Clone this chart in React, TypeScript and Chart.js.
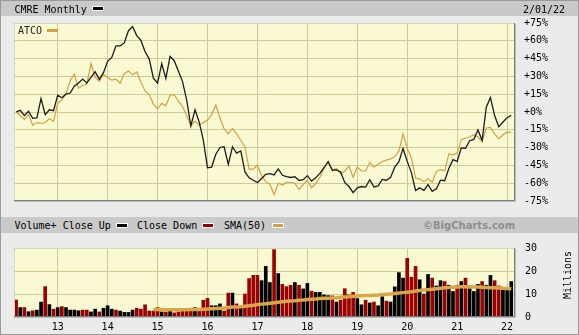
import React, { useEffect, useRef } from 'react';
import { Chart, registerables } from 'chart.js';

Chart.register(...registerables);

const MONO = "'DejaVu Sans Mono', monospace";

// ---------- DATA ----------
const BASE_YEAR = 2012;
const FIRST_YEAR = 2012;
const FIRST_MONTH = 3; // March 2012
const N = 120;
const months: string[] = Array.from({ length: N }, (_, i) => {
  const m = FIRST_MONTH - 1 + i;
  return `${FIRST_YEAR + Math.floor(m / 12)}-${String((m % 12) + 1).padStart(2, '0')}`;
});

const yearTicks = ['13', '14', '15', '16', '17', '18', '19', '20', '21', '22'];
const pctTicks = [75, 60, 45, 30, 15, 0, -15, -30, -45, -60, -75];
const volTicks = [0, 10, 20, 30];

// CMRE monthly, % change
const cmrePct = [
  0, 1.4, -3.0, 0.6, -5.4, -4.9, 11.4, -2.2, 1.9, 1.1,
  14.1, 12.0, 15.0, 16.0, 21.8, 24.5, 27.7, 24.5, 29.1, 34.0,
  27.5, 33.2, 42.7, 46.0, 55.7, 55.7, 58.2, 68.5, 72.0, 64.4,
  60.3, 50.8, 44.6, 28.5, 24.4, 40.7, 28.3, 46.8, 43.2, 34.5,
  25.6, 10.1, -11.7, 1.9, -8.4, -23.9, -47.0, -46.4, -35.6, -29.9,
  -29.3, -44.2, -29.3, -34.7, -32.8, -50.5, -55.5, -57.5, -59.5, -56.0,
  -52.5, -52.0, -53.0, -47.9, -53.3, -54.4, -55.2, -54.5, -57.7, -57.0,
  -53.6, -58.2, -55.5, -51.7, -46.8, -41.9, -49.2, -48.8, -50.6, -59.6,
  -62.8, -68.0, -63.9, -62.8, -63.3, -57.1, -63.1, -62.2, -56.8, -57.5,
  -55.1, -46.5, -41.9, -30.7, -41.6, -51.1, -66.1, -63.9, -66.1, -61.2,
  -66.9, -64.7, -57.4, -57.9, -47.6, -40.2, -41.6, -30.2, -30.5, -24.2,
  -23.1, -15.2, -23.9, 4.1, 12.2, -3.0, -12.5, -8.4, -4.9, -2.7,
];

// ATCO monthly, % change
const atcoPct = [
  0, -3.0, -6.2, -2.2, -11.1, -8.9, -9.5, -8.9, -5.7, -7.9,
  7.3, 10.1, 15.5, 26.3, 31.8, 20.1, 22.3, 23.6, 40.8, 29.1,
  25.8, 31.8, 29.1, 26.9, 27.7, 24.2, 32.3, 34.5, 31.3, 33.7,
  25.0, 17.7, 14.7, 6.7, 2.7, 7.3, 5.2, 14.1, 14.7, 9.3,
  4.6, -3.0, -11.6, -7.6, -11.1, -8.9, -6.8, -2.2, 5.9, -4.9,
  -14.3, -18.4, -13.8, -18.4, -23.8, -29.2, -48.2, -48.2, -44.7, -53.6,
  -58.7, -61.0, -69.6, -60.0, -61.5, -59.2, -59.2, -60.0, -65.4, -61.1,
  -57.3, -63.8, -60.5, -55.1, -47.5, -41.5, -49.1, -47.5, -51.9, -49.7,
  -45.6, -55.1, -46.4, -49.7, -49.7, -42.5, -46.3, -44.0, -41.8, -40.5,
  -39.6, -37.5, -33.0, -18.4, -30.7, -38.8, -55.7, -56.5, -58.7, -56.5,
  -59.2, -50.2, -48.6, -49.7, -35.3, -36.1, -34.7, -23.3, -21.9, -21.1,
  -19.2, -21.1, -24.7, -13.5, -13.0, -18.4, -22.5, -19.2, -17.0, -17.0,
];

// Volume, millions
const volume = [
  7.4, 4.1, 4.1, 2.3, 2.7, 3.0, 6.5, 13.2, 5.4, 3.4,
  4.1, 4.5, 4.1, 3.0, 3.0, 2.7, 3.0, 3.0, 2.2, 3.4,
  2.2, 3.8, 4.9, 3.4, 3.0, 2.6, 2.0, 2.0, 3.0, 3.8,
  3.4, 5.3, 2.6, 2.6, 4.1, 2.2, 2.2, 3.0, 1.8, 2.2,
  3.0, 3.0, 3.0, 4.1, 3.0, 7.3, 8.1, 4.9, 4.9, 5.7,
  2.6, 10.4, 10.4, 5.7, 4.5, 10.0, 16.7, 18.1, 18.1, 15.8,
  22.0, 15.0, 29.3, 18.9, 14.2, 13.2, 13.8, 15.0, 13.8, 12.2,
  14.6, 11.2, 10.7, 10.7, 9.6, 9.3, 9.2, 6.5, 7.3, 12.3,
  9.6, 10.7, 8.0, 5.3, 7.3, 6.1, 6.5, 4.9, 8.8, 6.9,
  6.5, 13.1, 19.3, 16.9, 25.5, 17.3, 22.0, 16.2, 10.0, 18.5,
  16.9, 13.5, 15.8, 15.4, 13.8, 11.1, 13.8, 15.4, 16.9, 12.3,
  11.1, 14.2, 15.4, 13.8, 18.1, 15.8, 13.5, 12.0, 12.0, 15.4,
];

// 1 = close up, 0 = close down
const closeUp = [
  0, 1, 0, 1, 0, 1, 1, 0, 1, 0,
  1, 0, 1, 1, 1, 1, 0, 0, 1, 1,
  0, 1, 1, 1, 0, 1, 1, 1, 1, 0,
  0, 0, 0, 0, 0, 1, 0, 1, 0, 0,
  0, 0, 0, 1, 0, 0, 0, 1, 1, 1,
  0, 0, 1, 0, 1, 0, 0, 0, 0, 1,
  1, 1, 0, 1, 0, 0, 0, 1, 0, 1,
  1, 0, 1, 1, 1, 1, 0, 1, 0, 0,
  0, 0, 1, 1, 0, 1, 0, 1, 1, 0,
  1, 1, 1, 1, 0, 0, 0, 1, 0, 1,
  0, 1, 1, 0, 1, 1, 0, 1, 0, 1,
  1, 1, 0, 1, 1, 0, 0, 1, 1, 1,
];

// 50-period SMA of volume (millions)
const sma50: (number | null)[] = [
  null, null, null, null, null, null, null, null, null, null,
  null, null, null, null, null, null, null, null, null, null,
  null, null, null, null, null, null, null, null, null, null,
  null, null, null, 3.3, 3.3, 3.3, 3.2, 3.2, 3.2, 3.2,
  3.2, 3.2, 3.3, 3.3, 3.3, 3.4, 3.5, 3.6, 3.7, 3.8,
  3.9, 4.1, 4.3, 4.4, 4.5, 4.7, 4.9, 5.1, 5.4, 5.6,
  5.8, 6.0, 6.2, 6.4, 6.6, 6.8, 7.0, 7.1, 7.3, 7.4,
  7.6, 7.7, 7.8, 8.0, 8.1, 8.2, 8.3, 8.4, 8.6, 8.7,
  8.8, 9.0, 9.1, 9.2, 9.3, 9.4, 9.5, 9.6, 9.8, 9.9,
  10.0, 10.2, 10.4, 10.6, 10.8, 11.0, 11.3, 11.5, 11.7, 11.9,
  12.1, 12.3, 12.5, 12.7, 12.8, 12.9, 13.0, 13.1, 13.1, 13.1,
  13.0, 13.0, 12.9, 12.8, 12.7, 12.7, 12.6, 12.5, 12.4, 12.3,
];

// ---------- helpers ----------
const monthPos = (label: string) => {
  const [y, m] = label.split('-').map(Number);
  return (y - BASE_YEAR) * 12 + (m - 1);
};
const yearPos = (t: string) => (2000 + Number(t) - BASE_YEAR) * 12;
const X_MIN = 1.5;
const X_MAX = 121.9;

const GRID = '#cccc99';
const BLACK_LINE = '#1c1c1c';
const ORANGE = '#d6a040';
const RED = '#9c0000';

let patternCache: CanvasPattern | null = null;
function getPattern(ctx: CanvasRenderingContext2D) {
  if (patternCache) return patternCache;
  const pc = document.createElement('canvas');
  pc.width = 2;
  pc.height = 2;
  const g = pc.getContext('2d')!;
  g.fillStyle = '#ffffe2';
  g.fillRect(0, 0, 2, 2);
  g.fillStyle = '#f7f4c6';
  g.fillRect(0, 0, 1, 1);
  g.fillRect(1, 1, 1, 1);
  patternCache = ctx.createPattern(pc, 'repeat');
  return patternCache!;
}

const panelPlugin = {
  id: 'panelFrame',
  beforeDraw(chart: any) {
    const { ctx, chartArea: a } = chart;
    ctx.save();
    ctx.fillStyle = getPattern(ctx);
    ctx.fillRect(a.left, a.top, a.right - a.left, a.bottom - a.top);
    ctx.restore();
  },
  afterDraw(chart: any) {
    const { ctx, chartArea: a } = chart;
    ctx.save();
    ctx.lineWidth = 1;
    ctx.strokeStyle = '#d8d8bc';
    ctx.beginPath();
    ctx.moveTo(a.left + 0.5, a.bottom);
    ctx.lineTo(a.left + 0.5, a.top + 0.5);
    ctx.lineTo(a.right, a.top + 0.5);
    ctx.stroke();
    ctx.strokeStyle = '#7c7c7c';
    ctx.beginPath();
    ctx.moveTo(a.left, a.bottom - 0.5);
    ctx.lineTo(a.right - 0.5, a.bottom - 0.5);
    ctx.lineTo(a.right - 0.5, a.top);
    ctx.stroke();
    ctx.strokeStyle = '#bcbcbc';
    ctx.beginPath();
    ctx.moveTo(a.left + 1, a.bottom + 0.5);
    ctx.lineTo(a.right + 0.5, a.bottom + 0.5);
    ctx.lineTo(a.right + 0.5, a.top + 1);
    ctx.stroke();
    ctx.restore();
  },
};

const xScale = (showLabels: boolean, height: number) => ({
  type: 'linear' as const,
  min: X_MIN,
  max: X_MAX,
  offset: false,
  bounds: 'data' as const,
  grid: { color: GRID, lineWidth: 1, drawTicks: false, offset: false },
  border: { display: false },
  afterBuildTicks: (s: any) => {
    s.ticks = yearTicks.map((t) => ({ value: yearPos(t) }));
  },
  afterFit: (s: any) => {
    s.height = height;
  },
  ticks: {
    display: showLabels,
    autoSkip: false,
    maxRotation: 0,
    padding: 4,
    color: '#000',
    font: { family: MONO, size: 10 },
    callback: (_v: any, i: number) => yearTicks[i],
  },
});

export default function App() {
  const upRef = useRef<HTMLCanvasElement>(null);
  const loRef = useRef<HTMLCanvasElement>(null);

  useEffect(() => {
    const xs = months.map(monthPos);
    const upper = new Chart(upRef.current!, {
      type: 'line',
      data: {
        datasets: [
          {
            label: 'CMRE',
            data: cmrePct.map((v, i) => ({ x: xs[i], y: v })),
            borderColor: BLACK_LINE,
            borderWidth: 1.3,
            pointRadius: 0,
            tension: 0,
          },
          {
            label: 'ATCO',
            data: atcoPct.map((v, i) => ({ x: xs[i], y: v })),
            borderColor: ORANGE,
            borderWidth: 1.2,
            pointRadius: 0,
            tension: 0,
          },
        ],
      },
      options: {
        animation: false,
        responsive: false,
        devicePixelRatio: 1,
        layout: { padding: { left: 14, top: 23, right: 0, bottom: 8 } },
        plugins: { legend: { display: false }, tooltip: { enabled: false } },
        scales: {
          x: xScale(false, 0) as any,
          y: {
            position: 'right',
            min: -75,
            max: 75,
            grid: { color: GRID, lineWidth: 1, drawTicks: false },
            border: { display: false },
            afterBuildTicks: (s: any) => {
              s.ticks = pctTicks.map((v) => ({ value: v }));
            },
            afterFit: (s: any) => {
              s.width = 64;
            },
            ticks: {
              padding: 9,
              color: '#000',
              font: { family: MONO, size: 10 },
              callback: (v: any) => `${v >= 0 ? '+' : ''}${v}%`,
            },
          },
        },
      },
      plugins: [panelPlugin],
    });

    const lower = new Chart(loRef.current!, {
      type: 'bar',
      data: {
        datasets: [
          {
            type: 'line',
            label: 'SMA(50)',
            data: sma50.map((v, i) => ({ x: xs[i], y: v })) as any,
            borderColor: '#daa64a',
            borderWidth: 3.5,
            pointRadius: 0,
            tension: 0,
            spanGaps: false,
          },
          {
            type: 'bar',
            label: 'Volume',
            data: volume.map((v, i) => ({ x: xs[i], y: v })) as any,
            backgroundColor: closeUp.map((u) => (u ? '#000000' : RED)),
            barThickness: 3,
            grouped: false,
          } as any,
        ],
      },
      options: {
        animation: false,
        responsive: false,
        devicePixelRatio: 1,
        layout: { padding: { left: 14, top: 7, right: 0, bottom: 0 } },
        plugins: { legend: { display: false }, tooltip: { enabled: false } },
        scales: {
          x: xScale(true, 18) as any,
          y: {
            position: 'right',
            min: 0,
            max: 30,
            grid: { color: GRID, lineWidth: 1, drawTicks: false },
            border: { display: false },
            afterBuildTicks: (s: any) => {
              s.ticks = volTicks.map((v) => ({ value: v }));
            },
            afterFit: (s: any) => {
              s.width = 64;
            },
            ticks: {
              padding: 10,
              color: '#000',
              font: { family: MONO, size: 10 },
            },
          },
        },
      },
      plugins: [panelPlugin],
    });

    return () => {
      upper.destroy();
      lower.destroy();
    };
  }, []);

  const text = (extra: React.CSSProperties): React.CSSProperties => ({
    position: 'absolute',
    fontFamily: MONO,
    fontSize: 10,
    lineHeight: '10px',
    color: '#000',
    whiteSpace: 'nowrap',
    ...extra,
  });
  const swatch = (left: number, top: number, color: string, border = true): React.CSSProperties => ({
    position: 'absolute',
    left,
    top,
    width: 10,
    height: 3,
    background: color,
    border: border ? '1px solid #ffffff' : 'none',
  });

  return (
    <div
      style={{
        position: 'fixed',
        left: 0,
        top: 0,
        width: 579,
        height: 335,
        background: '#ebebeb',
        overflow: 'hidden',
      }}
    >
      <div style={{ position: 'absolute', left: 0, top: 0, width: 579, height: 16, background: '#c9c9c9' }} />
      <div style={{ position: 'absolute', left: 0, top: 217, width: 579, height: 16, background: '#c9c9c9' }} />
      <canvas ref={upRef} width={579} height={216} style={{ position: 'absolute', left: 0, top: 0, width: 579, height: 216 }} />
      <canvas ref={loRef} width={579} height={103} style={{ position: 'absolute', left: 0, top: 232, width: 579, height: 103 }} />

      <div style={text({ left: 14.5, top: 5 })}>CMRE Monthly</div>
      <div style={swatch(92, 6, '#000')} />
      <div style={text({ left: 523, top: 5 })}>2/01/22</div>

      <div style={text({ left: 18, top: 25.5, color: '#222' })}>ATCO</div>
      <div style={{ ...swatch(47, 29, ORANGE, false), width: 11 }} />

      <div style={text({ left: 14.5, top: 221 })}>Volume+ Close Up</div>
      <div style={swatch(116, 223, '#000')} />
      <div style={text({ left: 137, top: 221 })}>Close Down</div>
      <div style={swatch(202, 223, RED)} />
      <div style={text({ left: 224, top: 221 })}>SMA(50)</div>
      <div style={swatch(272, 223, ORANGE)} />
      <div
        style={text({
          left: 423,
          top: 220.5,
          fontFamily: "'DejaVu Sans', sans-serif",
          fontWeight: 'bold',
          color: '#8e8e8e',
        })}
      >
        ©BigCharts.com
      </div>

      <div
        style={text({
          left: 568,
          top: 275,
          transform: 'translate(-50%, -50%) rotate(-90deg)',
        })}
      >
        Millions
      </div>

      <div
        style={{
          position: 'absolute',
          left: 0,
          top: 0,
          width: 579,
          height: 335,
          boxSizing: 'border-box',
          border: '1px solid #9a9a9a',
          pointerEvents: 'none',
        }}
      />
    </div>
  );
}
